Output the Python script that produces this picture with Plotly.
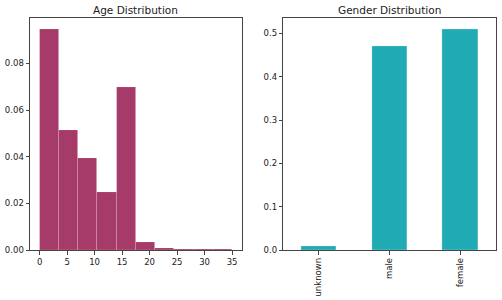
import plotly.graph_objects as go

# Age histogram (density)
age_bin_edges = [0, 3.5, 7, 10.5, 14, 17.5, 21, 24.5, 28, 31.5, 35]
age_density = [0.0946, 0.0514, 0.0393, 0.0247, 0.0697, 0.0033, 0.0009, 0.0004, 0.0001, 0.0004]
age_ticks = [0, 5, 10, 15, 20, 25, 30, 35]
age_yticks = [0.00, 0.02, 0.04, 0.06, 0.08]

# Gender distribution
gender_cats = ["unknown", "male", "female"]
gender_vals = [0.0085, 0.470, 0.5096]
gender_yticks = [0.0, 0.1, 0.2, 0.3, 0.4, 0.5]

age_centers = [(a + b) / 2 for a, b in zip(age_bin_edges[:-1], age_bin_edges[1:])]
age_widths = [b - a for a, b in zip(age_bin_edges[:-1], age_bin_edges[1:])]

fig = go.Figure()
fig.add_trace(go.Bar(
    x=age_centers, y=age_density, width=age_widths,
    marker=dict(color="#A63A68", line=dict(color="rgba(255,255,255,0.2)", width=0.8)),
    xaxis="x", yaxis="y", showlegend=False,
))
fig.add_trace(go.Bar(
    x=list(range(len(gender_cats))), y=gender_vals, width=0.5,
    marker=dict(color="#20AAB4", line=dict(color="rgba(255,255,255,0.3)", width=0.8)),
    xaxis="x2", yaxis="y2", showlegend=False,
))

W, H = 502, 300
tickfont = dict(family="DejaVu Sans", size=8.5, color="#222")
axis_common = dict(showgrid=False, zeroline=False, showline=True, mirror=True,
                   linecolor="#444", linewidth=1, ticks="outside", ticklen=3.5,
                   tickwidth=0.8, tickcolor="#444", tickfont=tickfont, automargin=False)

ymax1 = max(age_density) * 1.05
ymax2 = max(gender_vals) * 1.05
x0, x1 = age_bin_edges[0], age_bin_edges[-1]
pad = (x1 - x0) * 0.05

fig.update_layout(
    width=W, height=H, margin=dict(l=0, r=0, t=0, b=0, autoexpand=False),
    paper_bgcolor="white", plot_bgcolor="white", bargap=0,
    xaxis=dict(domain=[30 / W, 241.7 / W], range=[x0 - pad, x1 + pad],
               tickvals=age_ticks, anchor="y", **axis_common),
    yaxis=dict(domain=[50 / H, 281.7 / H], range=[0, ymax1],
               tickvals=age_yticks, tickformat=".2f", anchor="x", **axis_common),
    xaxis2=dict(domain=[283.3 / W, 495.7 / W], range=[-0.5, 2.5],
                tickvals=list(range(len(gender_cats))), ticktext=gender_cats,
                tickangle=-90, anchor="y2", **axis_common),
    yaxis2=dict(domain=[50 / H, 281.7 / H], range=[0, ymax2],
                tickvals=gender_yticks, tickformat=".1f", anchor="x2", **axis_common),
    annotations=[
        dict(text="Age Distribution", x=(30 + 241.7) / 2 / W, y=1 - 10 / H,
             xref="paper", yref="paper", showarrow=False, xanchor="center", yanchor="middle",
             font=dict(family="DejaVu Sans", size=10.5, color="#222")),
        dict(text="Gender Distribution", x=(283.3 + 495.7) / 2 / W, y=1 - 10 / H,
             xref="paper", yref="paper", showarrow=False, xanchor="center", yanchor="middle",
             font=dict(family="DejaVu Sans", size=10.5, color="#222")),
    ],
)

fig.write_html("out.html", config={"displayModeBar": False},
               post_script="document.body.style.margin='0';document.body.style.overflow='hidden';")
